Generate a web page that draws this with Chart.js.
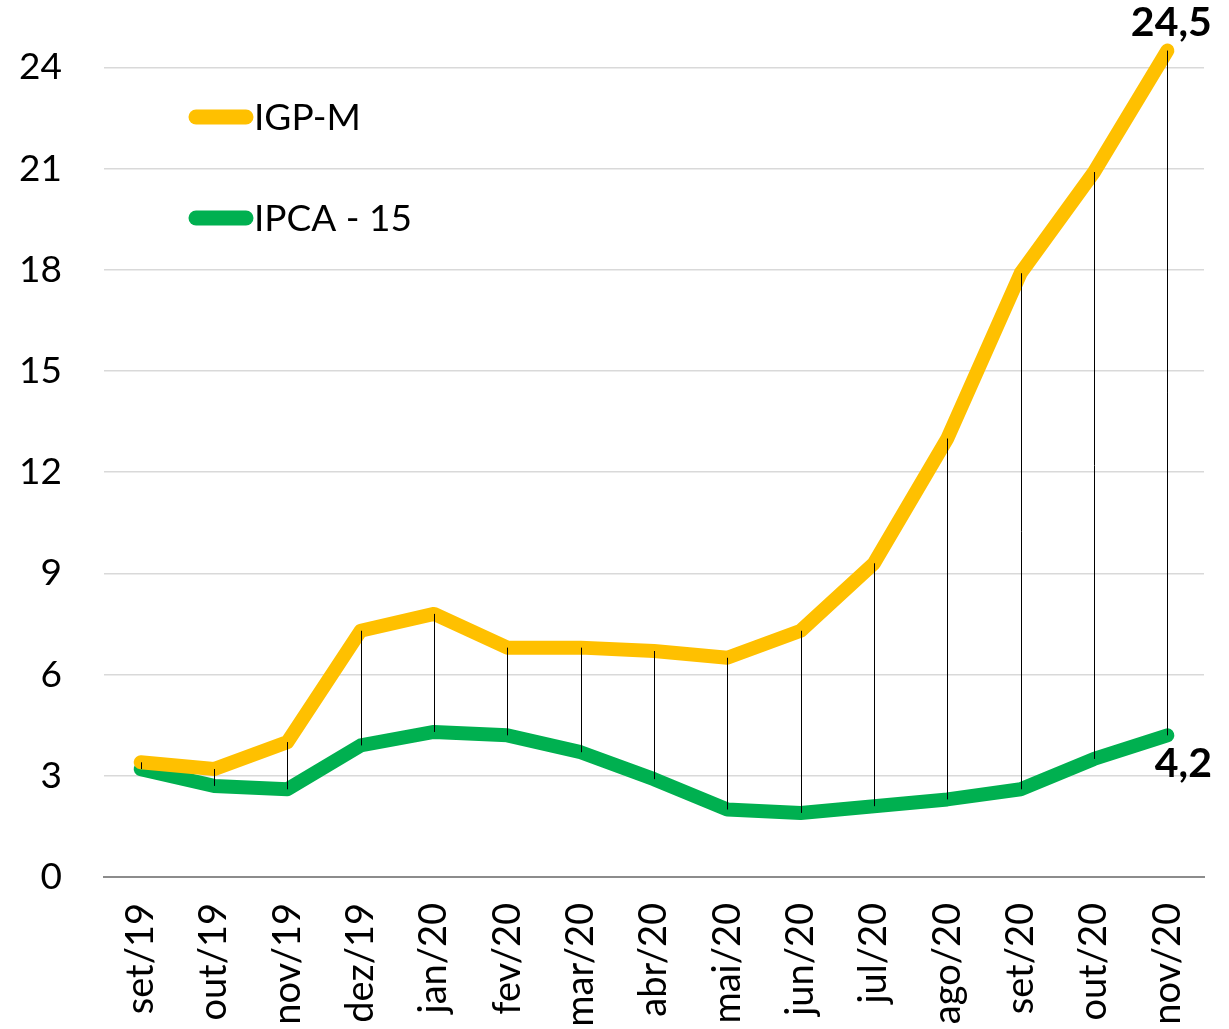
<!DOCTYPE html>
<html>
<head>
<meta charset="utf-8">
<script src="https://cdn.jsdelivr.net/npm/chart.js@4/dist/chart.umd.min.js"></script>
<style>
  html, body { margin: 0; padding: 0; background: #fff; }
  #wrap { width: 1229px; height: 1029px; position: relative; }
</style>
</head>
<body>
<div id="wrap"><canvas id="inflacao"></canvas></div>
<script>
const meses = ["set/19", "out/19", "nov/19", "dez/19", "jan/20", "fev/20", "mar/20", "abr/20",
  "mai/20", "jun/20", "jul/20", "ago/20", "set/20", "out/20", "nov/20"];
const igpm = [3.4, 3.2, 4.0, 7.3, 7.8, 6.8, 6.8, 6.7, 6.5, 7.3, 9.3, 13.0, 17.9, 20.9, 24.5];
const ipca15 = [3.2, 2.7, 2.6, 3.9, 4.3, 4.2, 3.7, 2.9, 2.0, 1.9, 2.1, 2.3, 2.6, 3.5, 4.2];
const yTicks = [0, 3, 6, 9, 12, 15, 18, 21, 24];

const FONT = "Lato, 'Open Sans', sans-serif";
const AMARELO = "#FFC000";
const VERDE = "#00B050";

const fmt = v => v.toFixed(1).replace(".", ",");

// linhas de máximo/mínimo entre as duas séries
const highLow = {
  id: "highLow",
  afterDatasetsDraw(chart) {
    const { ctx, scales: { x, y } } = chart;
    ctx.save();
    ctx.strokeStyle = "#000";
    ctx.lineWidth = 1;
    meses.forEach((m, i) => {
      const px = Math.round(x.getPixelForValue(i)) + 0.5;
      ctx.beginPath();
      ctx.moveTo(px, y.getPixelForValue(Math.max(igpm[i], ipca15[i])));
      ctx.lineTo(px, y.getPixelForValue(Math.min(igpm[i], ipca15[i])));
      ctx.stroke();
    });
    ctx.restore();
  }
};

// rótulos do último ponto de cada série
const endLabels = {
  id: "endLabels",
  afterDraw(chart) {
    const { ctx, scales: { x, y } } = chart;
    const last = meses.length - 1;
    const px = x.getPixelForValue(last);
    ctx.save();
    ctx.fillStyle = "#000";
    ctx.font = "bold 41px " + FONT;
    ctx.textAlign = "center";
    ctx.textBaseline = "middle";
    ctx.fillText(fmt(igpm[last]), px + 4, y.getPixelForValue(igpm[last]) - 28);
    ctx.fillText(fmt(ipca15[last]), px + 16, y.getPixelForValue(ipca15[last]) + 28);
    ctx.restore();
  }
};

// legenda dentro da área do gráfico
const legendaInterna = {
  id: "legendaInterna",
  afterDraw(chart) {
    const { ctx } = chart;
    const itens = [
      { label: "IGP-M", cor: AMARELO, y: 117 },
      { label: "IPCA - 15", cor: VERDE, y: 218 }
    ];
    ctx.save();
    itens.forEach(it => {
      ctx.strokeStyle = it.cor;
      ctx.lineWidth = 15;
      ctx.lineCap = "round";
      ctx.beginPath();
      ctx.moveTo(196, it.y);
      ctx.lineTo(246, it.y);
      ctx.stroke();
      ctx.fillStyle = "#000";
      ctx.font = "37px " + FONT;
      ctx.textAlign = "left";
      ctx.textBaseline = "middle";
      ctx.fillText(it.label, 254, it.y + 1);
    });
    ctx.restore();
  }
};

new Chart(document.getElementById("inflacao"), {
  type: "line",
  data: {
    labels: meses,
    datasets: [
      {
        label: "IGP-M",
        data: igpm,
        borderColor: AMARELO,
        borderWidth: 14,
        pointRadius: 0,
        tension: 0,
        borderCapStyle: "round",
        borderJoinStyle: "round",
        clip: false
      },
      {
        label: "IPCA - 15",
        data: ipca15,
        borderColor: VERDE,
        borderWidth: 14,
        pointRadius: 0,
        tension: 0,
        borderCapStyle: "round",
        borderJoinStyle: "round",
        clip: false
      }
    ]
  },
  options: {
    responsive: true,
    maintainAspectRatio: false,
    animation: false,
    layout: { padding: { top: 0, right: 25, bottom: 0, left: 0 } },
    plugins: {
      legend: { display: false },
      tooltip: { enabled: false }
    },
    scales: {
      x: {
        offset: true,
        grid: { display: false, drawTicks: false },
        border: { display: true, color: "#8c8c8c", width: 2 },
        ticks: {
          color: "#000",
          font: { family: FONT, size: 38 },
          minRotation: 90,
          maxRotation: 90,
          padding: 26,
          autoSkip: false
        },
        afterFit(scale) {
          scale.height = 152;
          scale.paddingLeft = 0;
          scale.paddingRight = 0;
        }
      },
      y: {
        min: 0,
        max: 26,
        afterBuildTicks(scale) { scale.ticks = yTicks.map(v => ({ value: v })); },
        grid: {
          color: ctx => ctx.tick && ctx.tick.value === 0 ? "rgba(0,0,0,0)" : "#d9d9d9",
          lineWidth: 1.5,
          drawTicks: false
        },
        border: { display: false },
        ticks: {
          color: "#000",
          font: { family: FONT, size: 37 },
          padding: 42
        },
        afterFit(scale) {
          scale.width = 104;
          scale.paddingTop = 0;
          scale.paddingBottom = 0;
        }
      }
    }
  },
  plugins: [highLow, endLabels, legendaInterna]
});
</script>
</body>
</html>
